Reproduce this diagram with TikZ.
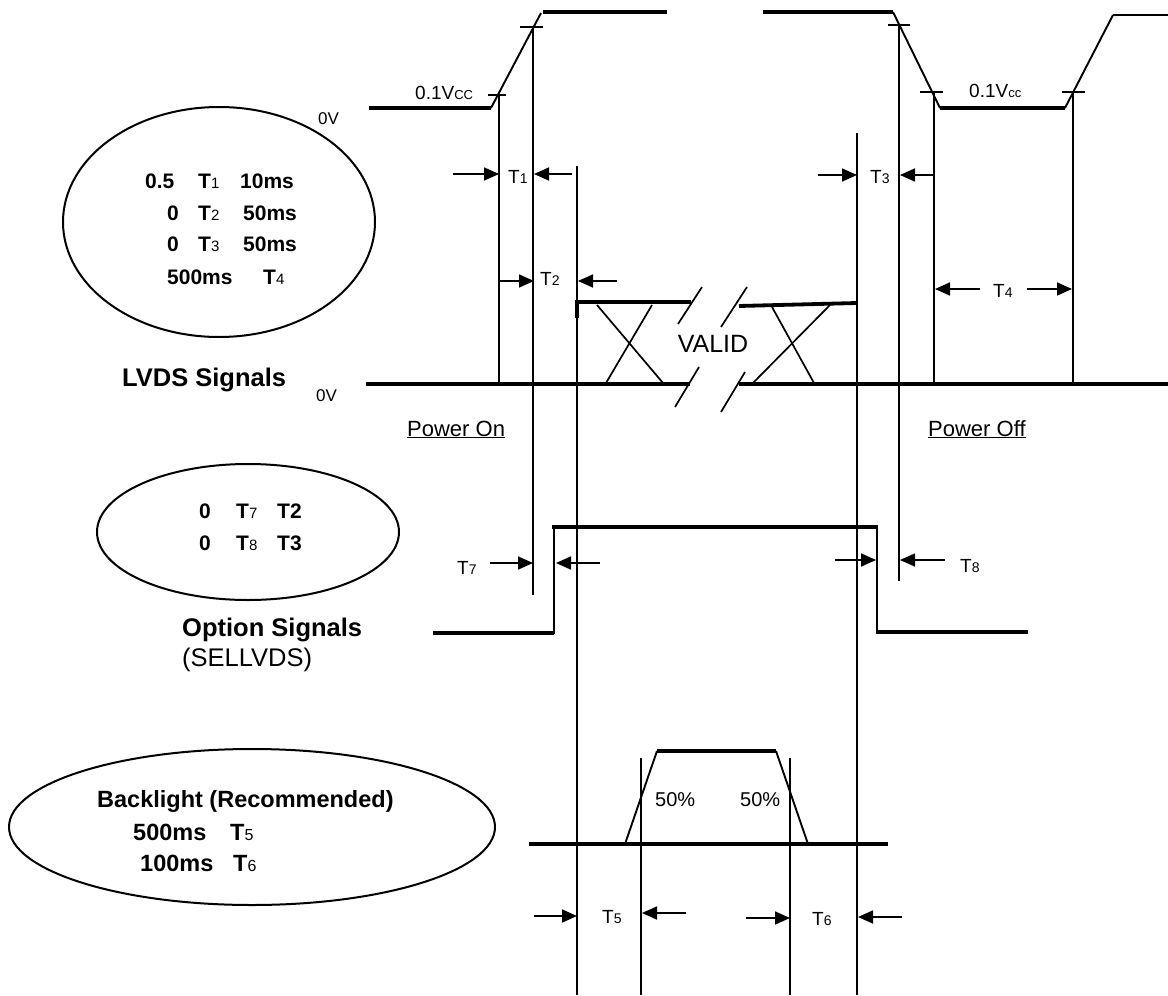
\documentclass[tikz,border=0pt]{standalone}
\usepackage{fontspec}
\setmainfont{Liberation Sans}
\usetikzlibrary{arrows.meta}
\newcommand{\fs}[1]{\fontsize{#1}{#1}\selectfont}
\newcommand{\subd}[2]{{\fs{#1}\mdseries #2}}
\begin{document}
\begin{tikzpicture}[x=1pt,y=-1pt,
  thinl/.style={line width=1.7pt},
  ramp/.style={line width=1.9pt},
  sig/.style={line width=3.8pt},
  arr/.style={line width=1.7pt,-{Triangle[length=15pt,width=13pt]}},
  txt/.style={inner sep=0pt,anchor=base west},
  lab/.style={txt,font=\fs{19}},
  ell/.style={line width=2pt},
  eone/.style={txt,font=\fs{21}\bfseries},
  ethree/.style={txt,font=\fs{23.5}\bfseries},
  big/.style={txt,font=\fs{25.5}\bfseries}]
\useasboundingbox (0,0) rectangle (1168,996);
% ---------------- VCC waveform ----------------
\draw[sig] (369,108) -- (491,108);
\draw[ramp] (491,108) -- (541,13);
\draw[sig] (543,12) -- (667,12);
\draw[sig] (763,12) -- (893,12);
\draw[ramp] (893,12) -- (940,108);
\draw[sig] (940,108) -- (1065,108);
\draw[ramp] (1065,108) -- (1113,15);
\draw[ramp] (1113,15) -- (1168,15);
% ticks
\draw[thinl] (488,95) -- (506,95);
\draw[thinl] (520,27) -- (543,27);
\draw[thinl] (888,25) -- (910,25);
\draw[thinl] (920,92) -- (943,92);
\draw[thinl] (1062,92) -- (1085,92);
% vertical reference lines
\draw[thinl] (499,95) -- (499,384);
\draw[thinl] (533,27) -- (533,595);
\draw[thinl] (577,166) -- (577,995);
\draw[thinl] (857,133) -- (857,995);
\draw[thinl] (899,25) -- (899,581);
\draw[thinl] (934,92) -- (934,384);
\draw[thinl] (1073,92) -- (1073,384);
\draw[thinl] (641,758) -- (641,995);
\draw[thinl] (790,758) -- (790,995);
% labels
\node[txt,font=\fs{19}] (vccl) at (415,99) {0.1V\subd{13}{CC}};
\node[txt,font=\fs{19}] (vccr) at (969,97) {0.1V\subd{13}{cc}};
\node[txt,font=\fs{17}] (zvtop) at (318,124) {0V};
% ---------------- timing arrows ----------------
\draw[arr] (453,174) -- (499,174);
\node[lab] (t1) at (508,183) {T\subd{14}{1}};
\draw[arr] (572,174) -- (534,174);
\draw[arr] (499,281) -- (534,281);
\node[lab] (t2) at (540,285) {T\subd{14}{2}};
\draw[arr] (617,281) -- (578,281);
\draw[arr] (818,175) -- (857,175);
\node[lab] (t3) at (870,183) {T\subd{14}{3}};
\draw[arr] (934,175) -- (900,175);
\draw[arr] (980,289) -- (935,289);
\node[lab] (t4) at (993,297) {T\subd{14}{4}};
\draw[arr] (1027,289) -- (1072,289);
% ---------------- Ellipse 1 ----------------
\draw[ell] (219,222) ellipse [x radius=156pt, y radius=115pt];
\node[eone] (e1a) at (145,188) {0.5};
\node[eone] (e1b) at (198,188) {T\subd{15}{1}};
\node[eone] (e1c) at (240,188) {10ms};
\node[eone] (e1d) at (167,220.5) {0};
\node[eone] (e1e) at (198,220.5) {T\subd{15}{2}};
\node[eone] (e1f) at (243,220.5) {50ms};
\node[eone] (e1g) at (167,251.5) {0};
\node[eone] (e1h) at (198,251.5) {T\subd{15}{3}};
\node[eone] (e1i) at (243,251.5) {50ms};
\node[eone] (e1j) at (167,284.5) {500ms};
\node[eone] (e1k) at (263,284.5) {T\subd{15}{4}};
% ---------------- LVDS signals ----------------
\node[big] (lvds) at (122,386) {LVDS Signals};
\node[txt,font=\fs{17}] (zvbot) at (316,401) {0V};
\draw[sig] (366,384) -- (690,384);
\draw[sig] (739,384) -- (1168,384);
\draw[sig] (577,302) -- (691,302);
\draw[sig] (739,306) -- (857,303);
\draw[sig] (577,300) -- (577,318);
\draw[thinl] (597,305) -- (663,383);
\draw[thinl] (652,305) -- (606,383);
\draw[thinl] (772,307) -- (814,383);
\draw[thinl] (830,305) -- (753,383);
\draw[thinl] (678,324) -- (702,287);
\draw[thinl] (721,327) -- (747,287);
\draw[thinl] (675,407) -- (699,367);
\draw[thinl] (721,412) -- (745,372);
\node[font=\fs{25},inner sep=0pt] (valid) at (713,344) {VALID};
\node[txt,font=\fs{22}] (pon) at (407,436) {\underline{Power On}};
\node[txt,font=\fs{22}] (poff) at (928,436) {\underline{Power Off}};
% ---------------- Ellipse 2 / option signals ----------------
\draw[ell] (248,532) ellipse [x radius=151pt, y radius=68pt];
\node[eone] (e2a) at (199,518.5) {0};
\node[eone] (e2b) at (236,518.5) {T\subd{15}{7}};
\node[eone] (e2c) at (277,518.5) {T2};
\node[eone] (e2d) at (199,550.5) {0};
\node[eone] (e2e) at (236,550.5) {T\subd{15}{8}};
\node[eone] (e2f) at (277,550.5) {T3};
\node[big] (opt) at (182,636) {Option Signals};
\node[txt,font=\fs{25.5}] (sel) at (182,666) {(SELLVDS)};
\draw[sig] (433,633) -- (554,633);
\draw[ramp] (554,634) -- (554,527);
\draw[sig] (552,527) -- (878,527);
\draw[ramp] (877,525) -- (877,632);
\draw[sig] (876,632) -- (1028,632);
\node[lab] (t7) at (457,574) {T\subd{14}{7}};
\draw[arr] (490,563) -- (533,563);
\draw[arr] (600,563) -- (556,563);
\draw[arr] (835,560) -- (876,560);
\draw[arr] (945,560) -- (900,560);
\node[lab] (t8) at (960,572) {T\subd{14}{8}};
% ---------------- Ellipse 3 / backlight ----------------
\draw[ell] (252,827) ellipse [x radius=243pt, y radius=78pt];
\node[ethree] (bl) at (97,807.5) {Backlight (Recommended)};
\node[ethree] (bla) at (133,840) {500ms};
\node[ethree] (blb) at (230,840) {T\subd{16}{5}};
\node[ethree] (blc) at (140,871) {100ms};
\node[ethree] (bld) at (233,871) {T\subd{16}{6}};
\draw[sig] (529,844) -- (888,844);
\draw[ramp] (625,844) -- (657,751);
\draw[sig] (657,751) -- (776,751);
\draw[ramp] (776,751) -- (808,844);
\node[txt,font=\fs{20}] (p50a) at (655,806) {50\%};
\node[txt,font=\fs{20}] (p50b) at (740,806) {50\%};
\draw[arr] (534,916) -- (577,916);
\node[lab] (t5) at (602,923) {T\subd{14}{5}};
\draw[arr] (686,913) -- (642,913);
\draw[arr] (746,918) -- (790,918);
\node[lab] (t6) at (812,925) {T\subd{14}{6}};
\draw[arr] (902,917) -- (858,917);
\end{tikzpicture}
\end{document}
